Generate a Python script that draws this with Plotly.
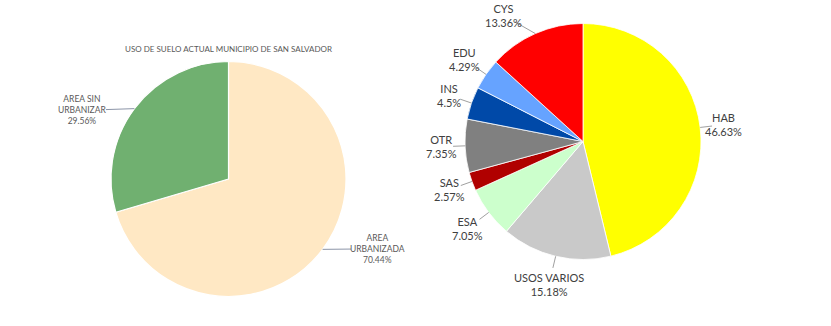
import math
import plotly.graph_objects as go

W, H = 831, 326

# ---------------- data ----------------
title_text = "USO DE SUELO ACTUAL MUNICIPIO DE SAN SALVADOR"

left_labels = ["AREA URBANIZADA", "AREA SIN URBANIZAR"]
left_label_text = ["AREA<br>URBANIZADA", "AREA SIN<br>URBANIZAR"]
left_values = [70.44, 29.56]
left_colors = ["#FFE8C4", "#70B070"]

right_labels = ["HAB", "USOS VARIOS", "ESA", "SAS", "OTR", "INS", "EDU", "CYS"]
right_values = [46.63, 15.18, 7.05, 2.57, 7.35, 4.5, 4.29, 13.36]
right_colors = ["#FFFF00", "#C9C9C9", "#CCFFCC", "#B00000", "#808080",
                "#0049A8", "#66A3FF", "#FF0000"]

# ---------------- layout params ----------------
left_dom = dict(x=[111 / W, 346 / W], y=[1 - 296.5 / H, 1 - 61.5 / H])
right_dom = dict(x=[465 / W, 701 / W], y=[1 - 259.5 / H, 1 - 23.5 / H])
FONT = "Lato, 'Open Sans', sans-serif"

fig = go.Figure()
fig.add_trace(go.Pie(labels=left_labels, values=left_values, sort=False,
                     direction="clockwise", rotation=0, textinfo="none",
                     hoverinfo="label+percent", domain=left_dom,
                     marker=dict(colors=left_colors, line=dict(color="white", width=1.2)),
                     showlegend=False))
fig.add_trace(go.Pie(labels=right_labels, values=right_values, sort=False,
                     direction="clockwise", rotation=0, textinfo="none",
                     hoverinfo="label+percent", domain=right_dom,
                     marker=dict(colors=right_colors, line=dict(color="white", width=0.8)),
                     showlegend=False))

annotations = []
shapes = []


def place_labels(values, texts, dom, fs, gap, hbias, color, line_color):
    cx = W * (dom["x"][0] + dom["x"][1]) / 2
    cy = H * (1 - (dom["y"][0] + dom["y"][1]) / 2)
    R = min(W * (dom["x"][1] - dom["x"][0]), H * (dom["y"][1] - dom["y"][0])) / 2
    total = sum(values)
    cum = 0.0
    for v, txt in zip(values, texts):
        mid = (cum + v / 2) / total * 2 * math.pi
        cum += v
        ux, uy = math.sin(mid), -math.cos(mid)
        ex, ey = cx + R * ux, cy + R * uy
        lines = txt.split("<br>")
        hw = max(len(l) for l in lines) * fs * 0.58 / 2
        hh = (len(lines) + 1) * fs * 1.3 / 2
        bx, by = ux * hbias, uy
        n = math.hypot(bx, by)
        bx, by = bx / n, by / n
        t = min(hw / abs(bx) if abs(bx) > 1e-6 else 1e9,
                hh / abs(by) if abs(by) > 1e-6 else 1e9)
        D = R + gap + t
        lx, ly = cx + D * bx, cy + D * by
        rr = R + gap
        if ly - hh < 1:
            ly = hh + 1
            dy = ly + hh - cy
            if abs(dy) < rr:
                dx = math.sqrt(rr * rr - dy * dy)
                lx = cx - dx - hw if ux < 0 else cx + dx + hw
        if ly + hh > H - 1:
            ly = H - 1 - hh
            dy = ly - hh - cy
            if abs(dy) < rr:
                dx = math.sqrt(rr * rr - dy * dy)
                lx = cx - dx - hw if ux < 0 else cx + dx + hw
        pct = f"{v:g}%"
        annotations.append(dict(
            x=lx / W, y=1 - ly / H, xref="paper", yref="paper",
            text=f"{txt}<br>{pct}", showarrow=False, xanchor="center",
            yanchor="middle", align="center",
            font=dict(family=FONT, size=fs, color=color)))
        # leader line from slice edge toward the label centre, stopping at its box
        dxl, dyl = lx - ex, ly - ey
        s = 1.0
        if abs(dxl) > 1e-6:
            s = min(s, (abs(dxl) - (hw + 2)) / abs(dxl)) if abs(dxl) > hw + 2 else s
        if abs(dyl) > 1e-6:
            s_y = (abs(dyl) - (hh + 2)) / abs(dyl) if abs(dyl) > hh + 2 else None
        else:
            s_y = None
        sx = (abs(dxl) - (hw + 2)) / abs(dxl) if abs(dxl) > hw + 2 else None
        cands = [c for c in (sx, s_y) if c is not None]
        if not cands:
            continue
        s = max(cands)
        px, py = ex + s * dxl, ey + s * dyl
        if math.hypot(px - ex, py - ey) > 3:
            shapes.append(dict(type="line", xref="paper", yref="paper",
                               x0=ex / W, y0=1 - ey / H, x1=px / W, y1=1 - py / H,
                               line=dict(color=line_color, width=1)))


place_labels(left_values, left_label_text, left_dom, 8.5, 20, 1.6, "#595959", "#8C95A8")
place_labels(right_values, right_labels, right_dom, 11, 14, 1.0, "#404040", "#A0A0A0")

# title of left chart
annotations.append(dict(
    x=(left_dom["x"][0] + left_dom["x"][1]) / 2, y=1 - 49 / H,
    xref="paper", yref="paper", text=title_text, showarrow=False,
    xanchor="center", yanchor="middle",
    font=dict(family=FONT, size=8, color="#595959")))

fig.update_layout(width=W, height=H, margin=dict(l=0, r=0, t=0, b=0),
                  paper_bgcolor="white", plot_bgcolor="white",
                  annotations=annotations, shapes=shapes, showlegend=False)

fig.write_html("out.html")
